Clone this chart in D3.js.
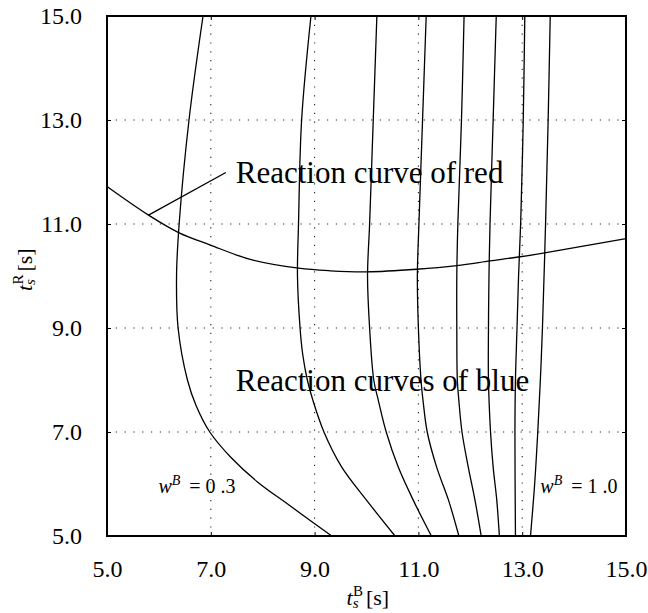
<!DOCTYPE html>
<html>
<head>
<meta charset="utf-8">
<script src="https://cdn.jsdelivr.net/npm/d3@7"></script>
<style>
  body { margin: 0; background: #fff; }
  svg text { font-family: "Liberation Serif", "Times New Roman", Times, "DejaVu Serif", "Noto Serif", serif; fill: #000; }
</style>
</head>
<body>
<script>
// Tick values on both axes
var xTicks = [5, 7, 9, 11, 13, 15];
var yTicks = [5, 7, 9, 11, 13, 15];

// Reaction curves of blue, one per weight w^B, as [t_s^B, t_s^R] pairs
var blueW03 = [[9.33,5],[8.50,5.6],[7.90,6.04],[7.38,6.52],[6.98,7],[6.72,7.5],[6.55,8],[6.37,9],[6.34,10],[6.39,11],[6.58,13],[6.85,15]];
var blueW04 = [[10.55,5],[10.00,5.69],[9.52,6.33],[9.18,7],[8.97,7.6],[8.86,8],[8.77,8.5],[8.72,9],[8.67,10],[8.69,11],[8.75,13],[8.93,15]];
var blueW05 = [[11.25,5],[10.90,5.69],[10.61,6.33],[10.38,7],[10.23,7.6],[10.14,8],[10.06,9],[10.02,10],[10.06,11],[10.13,13],[10.20,15]];
var blueW06 = [[11.78,5],[11.58,5.69],[11.35,6.33],[11.17,7],[11.09,7.6],[11.05,8],[11.00,9],[10.98,10],[11.01,11],[11.08,13],[11.15,15]];
var blueW07 = [[12.21,5],[12.09,5.69],[11.96,6.33],[11.84,7],[11.78,7.6],[11.75,8],[11.74,9],[11.74,10],[11.76,11],[11.83,13],[11.88,15]];
var blueW08 = [[12.56,5],[12.51,5.69],[12.44,6.33],[12.39,7],[12.35,8],[12.35,9],[12.36,10],[12.38,11],[12.44,13],[12.50,15]];
var blueW09 = [[12.87,5],[12.86,7],[12.87,8],[12.90,9],[12.93,10],[12.97,11],[13.02,13],[13.05,15]];
var blueW10 = [[13.16,5],[13.24,6],[13.30,7],[13.35,8],[13.39,9],[13.45,11],[13.50,13],[13.54,15]];
var blueCurves = [blueW03, blueW04, blueW05, blueW06, blueW07, blueW08, blueW09, blueW10];

// Reaction curve of red
var redX = [5, 5.80, 6.39, 6.98, 7.76, 8.69, 9.30, 10.00, 10.97, 11.74, 12.38, 12.96, 13.46, 15];
var redY = [11.72, 11.17, 10.83, 10.60, 10.32, 10.15, 10.10, 10.08, 10.13, 10.20, 10.29, 10.37, 10.45, 10.72];

var serif = "'Liberation Serif', 'Times New Roman', Times, 'DejaVu Serif', serif";

// SVG area and margins
var svgWidth = 648;
var svgHeight = 613;
var margin = { top: 16, right: 22, bottom: 77, left: 107 };
var width = svgWidth - margin.left - margin.right;
var height = svgHeight - margin.top - margin.bottom;

var svg = d3.select("body")
  .append("svg")
  .attr("width", svgWidth)
  .attr("height", svgHeight)
  .style("font-family", serif);

var chartGroup = svg.append("g")
  .attr("transform", `translate(${margin.left}, ${margin.top})`);

// Scales
var xScale = d3.scaleLinear().domain([5, 15]).range([0, width]);
var yScale = d3.scaleLinear().domain([5, 15]).range([height, 0]);

// Dotted grid (inner ticks only)
chartGroup.selectAll(".vgrid")
  .data(xTicks.slice(1, -1))
  .enter()
  .append("line")
  .attr("x1", d => xScale(d)).attr("x2", d => xScale(d))
  .attr("y1", 0).attr("y2", height)
  .attr("stroke", "#222")
  .attr("stroke-width", 1.1)
  .attr("stroke-dasharray", "1.2,7.6");

chartGroup.selectAll(".hgrid")
  .data(yTicks.slice(1, -1))
  .enter()
  .append("line")
  .attr("y1", d => yScale(d)).attr("y2", d => yScale(d))
  .attr("x1", 0).attr("x2", width)
  .attr("stroke", "#222")
  .attr("stroke-width", 1.1)
  .attr("stroke-dasharray", "1.2,7.6");

// Axes: labels outside, short ticks pointing inward
var bottomAxis = d3.axisBottom(xScale).tickValues(xTicks).tickFormat(d3.format(".1f")).tickSizeInner(-4).tickSizeOuter(0).tickPadding(24);
var leftAxis = d3.axisLeft(yScale).tickValues(yTicks).tickFormat(d3.format(".1f")).tickSizeInner(-4).tickSizeOuter(0).tickPadding(25);
var topAxis = d3.axisTop(xScale).tickValues(xTicks).tickFormat("").tickSizeInner(-4).tickSizeOuter(0);
var rightAxis = d3.axisRight(yScale).tickValues(yTicks).tickFormat("").tickSizeInner(-4).tickSizeOuter(0);

function styleAxis(g) {
  g.attr("font-family", null);
  g.select(".domain").remove();
  g.selectAll("line").attr("stroke", "#000").attr("stroke-width", 1);
  g.selectAll("text")
    .style("font-family", serif)
    .style("font-size", "24px")
    .attr("fill", "#000");
}

chartGroup.append("g").attr("transform", `translate(0, ${height})`).call(bottomAxis).call(styleAxis);
chartGroup.append("g").call(leftAxis).call(styleAxis);
chartGroup.append("g").call(topAxis).call(styleAxis);
chartGroup.append("g").attr("transform", `translate(${width}, 0)`).call(rightAxis).call(styleAxis);

// Curves
var line = d3.line()
  .x(d => xScale(d[0]))
  .y(d => yScale(d[1]))
  .curve(d3.curveCatmullRom.alpha(0.5));

chartGroup.selectAll(".blue")
  .data(blueCurves)
  .enter()
  .append("path")
  .attr("d", d => line(d))
  .attr("fill", "none")
  .attr("stroke", "#000")
  .attr("stroke-width", 1.3);

var redPts = redX.map((v, i) => [v, redY[i]]);
chartGroup.append("path")
  .attr("d", line(redPts))
  .attr("fill", "none")
  .attr("stroke", "#000")
  .attr("stroke-width", 1.3);

// Leader line for the red label
chartGroup.append("line")
  .attr("x1", xScale(5.80)).attr("y1", yScale(11.17))
  .attr("x2", xScale(7.29)).attr("y2", yScale(11.99))
  .attr("stroke", "#000")
  .attr("stroke-width", 1.3);

// Frame
chartGroup.append("rect")
  .attr("x", 0).attr("y", 0)
  .attr("width", width).attr("height", height)
  .attr("fill", "none")
  .attr("stroke", "#000")
  .attr("stroke-width", 2);

// Annotations
chartGroup.append("text")
  .attr("x", xScale(7.48)).attr("y", yScale(11.79))
  .style("font-size", "31px")
  .text("Reaction curve of red");

chartGroup.append("text")
  .attr("x", xScale(7.48)).attr("y", yScale(7.79))
  .style("font-size", "31px")
  .text("Reaction curves of blue");

function weightLabel(xv, val) {
  var t = chartGroup.append("text")
    .attr("x", xScale(xv)).attr("y", yScale(5.83))
    .style("font-size", "20px");
  t.append("tspan").style("font-style", "italic").text("w");
  t.append("tspan").style("font-style", "italic").style("font-size", "14px").attr("dy", -8).text("B");
  t.append("tspan").attr("dy", 8).attr("dx", 9).text(val);
}
weightLabel(5.99, "= 0 .3");
weightLabel(13.35, "= 1 .0");

// Axis titles
var xTitle = svg.append("text")
  .attr("x", 346.5).attr("y", 605)
  .style("font-size", "22px");
xTitle.append("tspan").style("font-style", "italic").text("t");
xTitle.append("tspan").style("font-style", "italic").style("font-size", "15px").attr("dy", 3).text("s");
xTitle.append("tspan").style("font-size", "15px").attr("dx", -5.5).attr("dy", -12).text("B");
xTitle.append("tspan").attr("dy", 9).attr("dx", 3).text("[s]");

var yTitle = svg.append("text")
  .attr("transform", "translate(32, 291) rotate(-90)")
  .style("font-size", "22px");
yTitle.append("tspan").style("font-style", "italic").text("t");
yTitle.append("tspan").style("font-style", "italic").style("font-size", "15px").attr("dy", 3).text("s");
yTitle.append("tspan").style("font-size", "15px").attr("dx", -5.5).attr("dy", -12).text("R");
yTitle.append("tspan").attr("dy", 9).attr("dx", 3).text("[s]");
</script>
</body>
</html>
